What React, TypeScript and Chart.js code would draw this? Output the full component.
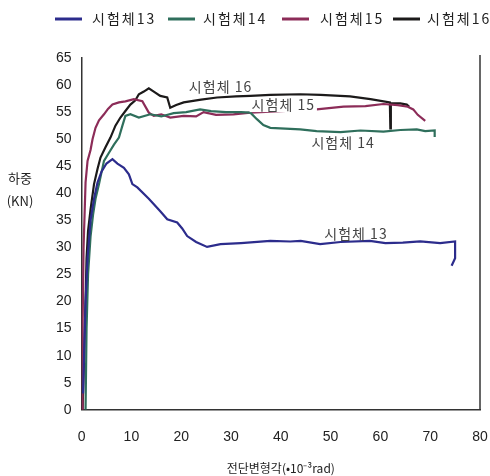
import React, { useEffect, useRef } from "react";
import { Chart, registerables } from "chart.js";

Chart.register(...registerables);

const seriesNames = ["시험체13", "시험체14", "시험체15", "시험체16"];
const seriesColors = ["#2c2c8c", "#2f6f5c", "#8c2c58", "#1c1a1a"];

const s13x = [0.3, 0.5, 0.8, 1.2, 1.8, 2.5, 3.2, 4.0, 5.0, 6.2, 7.2, 8.5, 9.5, 10.2, 11.2, 13.5, 15.8, 17.2, 19.2, 20.2, 21.2, 23.0, 25.2, 27.9, 32.0, 37.9, 41.9, 44.0, 47.9, 52.0, 57.9, 61.0, 64.5, 68.0, 72.0, 75.0, 75.0, 74.3];
const s13y = [3, 10, 20, 28, 35, 39, 42, 44, 45.5, 46.3, 45.5, 44.7, 43.5, 41.7, 41.1, 39.0, 36.7, 35.2, 34.6, 33.5, 32.1, 31.0, 30.1, 30.6, 30.8, 31.2, 31.1, 31.2, 30.6, 31.0, 31.2, 30.8, 30.9, 31.1, 30.8, 31.1, 28.0, 26.6];

const s14x = [0.8, 1.0, 1.3, 1.8, 2.3, 2.8, 3.5, 4.5, 5.5, 6.5, 7.5, 8.2, 8.8, 9.8, 11.5, 13.8, 16.0, 18.5, 21.0, 23.8, 26.0, 29.0, 32.0, 33.9, 35.2, 36.5, 37.9, 43.9, 47.2, 52.0, 56.0, 60.6, 64.0, 67.3, 69.0, 70.9, 70.9];
const s14y = [0, 15, 25, 32, 36, 39, 41.7, 46, 47.5, 49, 50.3, 52.5, 54.3, 54.6, 54.0, 54.6, 54.2, 54.8, 55.0, 55.5, 55.2, 55.0, 55.0, 54.9, 53.7, 52.6, 52.1, 51.8, 51.5, 51.3, 51.6, 51.4, 51.7, 51.8, 51.5, 51.6, 50.4];

const s15x = [0.1, 0.2, 0.4, 0.6, 0.8, 1.2, 1.8, 2.2, 2.8, 3.5, 4.5, 5.3, 6.2, 7.5, 8.8, 10.5, 12.2, 13.5, 14.5, 16.0, 17.8, 20.5, 23.0, 24.5, 27.0, 30.5, 33.9, 40.0, 47.2, 52.6, 57.0, 60.6, 63.5, 65.5, 66.6, 67.5, 69.0];
const s15y = [0, 15, 30, 36, 42, 46, 48, 50, 52.1, 53.5, 54.6, 55.6, 56.4, 56.8, 57.0, 57.4, 57.0, 54.9, 54.3, 54.6, 54.0, 54.3, 54.2, 55.0, 54.5, 54.6, 54.9, 55.2, 55.5, 56.0, 56.1, 56.5, 56.3, 56.0, 55.5, 54.5, 53.4];

const s16x = [0.2, 0.5, 0.8, 1.0, 1.3, 1.8, 2.5, 3.2, 3.8, 4.8, 5.8, 6.8, 7.8, 8.8, 9.8, 10.8, 11.5, 12.5, 13.5, 14.5, 15.8, 17.2, 17.8, 19.0, 20.5, 24.0, 27.2, 31.0, 33.9, 37.9, 43.9, 48.0, 53.9, 58.0, 61.9, 62.0, 62.1, 64.0, 65.3, 65.8];
const s16y = [0, 10, 20, 28, 33, 37, 41.7, 44.5, 46.6, 48.5, 50.3, 52.5, 54.0, 55.2, 56.4, 57.2, 58.3, 58.8, 59.4, 58.8, 58.0, 57.7, 55.8, 56.3, 56.8, 57.3, 57.7, 57.9, 58.0, 58.2, 58.3, 58.2, 57.9, 57.4, 56.8, 52.0, 56.6, 56.6, 56.4, 56.0];

const xTicks = [0, 10, 20, 30, 40, 50, 60, 70, 80];
const yTicks = [0, 5, 10, 15, 20, 25, 30, 35, 40, 45, 50, 55, 60, 65];

const labelTexts = ["시험체 16", "시험체 15", "시험체 14", "시험체 13"];
const labelX = [27.9, 40.5, 52.5, 55.1];
const labelY = [59.7, 56.3, 49.3, 32.5];

const xTitle = "전단변형각(•10⁻³rad)";
const yTitle = ["하중", "(KN)"];

function pts(xs: number[], ys: number[]) {
  return xs.map((x, i) => ({ x, y: ys[i] }));
}

export default function App() {
  const ref = useRef<HTMLCanvasElement | null>(null);
  useEffect(() => {
    document.body.style.margin = "0";
    const canvas = ref.current;
    if (!canvas) return;
    const data = [pts(s13x, s13y), pts(s14x, s14y), pts(s15x, s15y), pts(s16x, s16y)];
    const legendLineX = [55, 168, 282, 393];
    const legendTextX = [92, 203, 320, 427];
    const extras = {
      id: "extras",
      afterDraw(chart: any) {
        const ctx = chart.ctx;
        const xs = chart.scales.x;
        const ys = chart.scales.y;
        const ca = chart.chartArea;
        ctx.save();
        ctx.strokeStyle = "#333";
        ctx.lineWidth = 1.5;
        ctx.beginPath();
        ctx.moveTo(ca.right, ca.top - 3);
        ctx.lineTo(ca.right, ca.bottom);
        ctx.stroke();
        ctx.font = "14px 'Noto Sans CJK KR', sans-serif";
        (ctx as any).letterSpacing = "1px";
        ctx.textAlign = "center";
        ctx.textBaseline = "middle";
        labelTexts.forEach((t, i) => {
          const px = xs.getPixelForValue(labelX[i]);
          const py = ys.getPixelForValue(labelY[i]);
          if (i === 1) {
            const w = ctx.measureText(t).width;
            ctx.fillStyle = "#fff";
            ctx.fillRect(px - w / 2 - 2, py - 7, w + 4, 14);
          }
          ctx.fillStyle = "#444";
          ctx.fillText(t, px, py);
        });
        (ctx as any).letterSpacing = "0px";
        ctx.font = "13px 'Noto Sans CJK KR', sans-serif";
        ctx.fillStyle = "#222";
        ctx.fillText(yTitle[0], 20, ys.getPixelForValue(42.8));
        ctx.fillText(yTitle[1], 20, ys.getPixelForValue(38.6));
        // legend
        ctx.textAlign = "left";
        ctx.font = "14px 'Noto Sans CJK KR', sans-serif";
        (ctx as any).letterSpacing = "2px";
        seriesNames.forEach((n, i) => {
          ctx.strokeStyle = seriesColors[i];
          ctx.lineWidth = 3;
          ctx.beginPath();
          ctx.moveTo(legendLineX[i], 19);
          ctx.lineTo(legendLineX[i] + 27, 19);
          ctx.stroke();
          ctx.fillStyle = "#222";
          ctx.fillText(n, legendTextX[i], 19);
        });
        ctx.restore();
      },
    };
    const chart = new Chart(canvas, {
      type: "scatter",
      data: {
        datasets: data.map((d, i) => ({
          label: seriesNames[i],
          data: d,
          showLine: true,
          borderColor: seriesColors[i],
          backgroundColor: seriesColors[i],
          borderWidth: 2.2,
          pointRadius: 0,
          tension: 0,
        })),
      },
      plugins: [extras],
      options: {
        animation: false,
        responsive: false,
        layout: { padding: { left: 46, right: 0, top: 58, bottom: 0 } },
        plugins: {
          legend: { display: false },
          tooltip: { enabled: false },
        },
        scales: {
          x: {
            type: "linear",
            min: 0,
            max: 80,
            afterBuildTicks: (s: any) => {
              s.ticks = xTicks.map((v) => ({ value: v }));
            },
            afterFit: (s: any) => {
              s.paddingRight = 10;
            },
            grid: { display: false, drawTicks: false },
            border: { display: true, color: "#333", width: 1.5 },
            ticks: {
              color: "#222",
              padding: 19,
              font: { size: 14, family: "'Liberation Sans', Arial, sans-serif" },
            },
            title: {
              display: true,
              text: xTitle,
              color: "#222",
              padding: { top: -3, bottom: 0 },
              font: { size: 12, family: "'Noto Sans CJK KR', sans-serif" },
            },
          },
          y: {
            type: "linear",
            min: 0,
            max: 65,
            afterBuildTicks: (s: any) => {
              s.ticks = yTicks.map((v) => ({ value: v }));
            },
            grid: { display: false, drawTicks: false },
            border: { display: true, color: "#333", width: 1.5 },
            ticks: {
              color: "#222",
              padding: 10,
              font: { size: 14, family: "'Liberation Sans', Arial, sans-serif" },
            },
          },
        },
      },
    });
    return () => chart.destroy();
  }, []);
  return <canvas ref={ref} width={490} height={476} style={{ display: "block" }} />;
}
